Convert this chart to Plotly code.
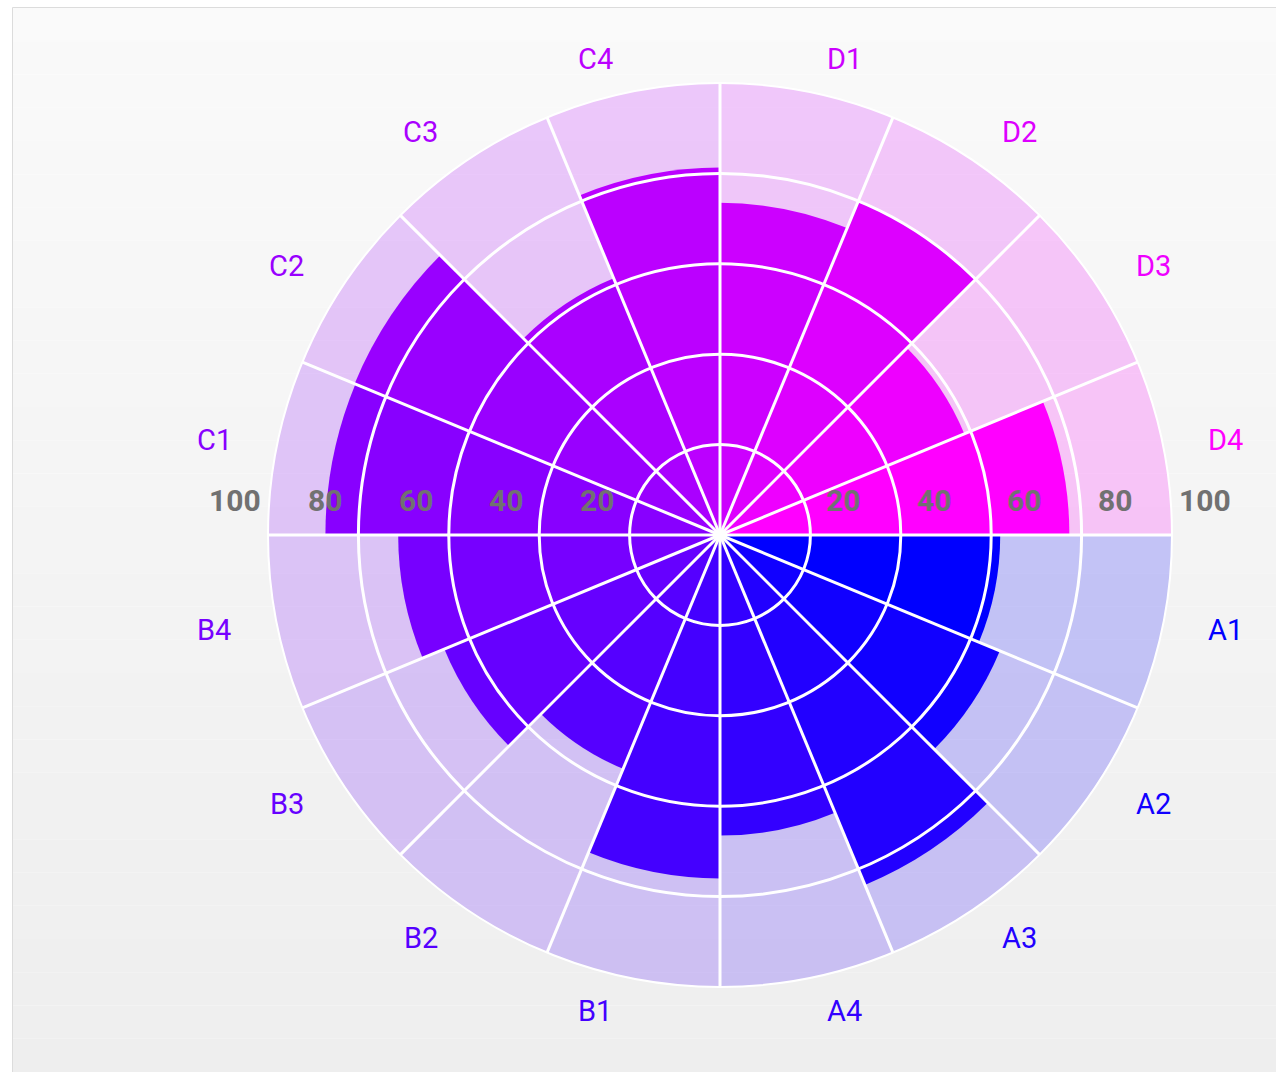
import math
import plotly.graph_objects as go

# ---------------- data ----------------
categories = ["A1", "A2", "A3", "A4", "B1", "B2", "B3", "B4",
              "C1", "C2", "C3", "C4", "D1", "D2", "D3", "D4"]
values = [62, 67, 83.8, 66.5, 76, 56, 66, 71.2,
          87.3, 87.5, 61.5, 81.3, 73.5, 80, 58.5, 77.3]
track = [100] * len(categories)          # full-length background tracks
radial_ticks = [20, 40, 60, 80, 100]
radial_ticktext = ["20", "40", "60", "80", "100"]

# ---------------- style ----------------
colors = ["#0000ff", "#1100ff", "#2200ff", "#3300ff", "#4400ff", "#5500ff",
          "#6600ff", "#7700ff", "#8800ff", "#9900ff", "#aa00ff", "#bb00ff",
          "#cc00ff", "#dd00ff", "#ee00ff", "#ff00ff"]


def with_alpha(hex_color, a):
    h = hex_color.lstrip("#")
    r, g, b = int(h[0:2], 16), int(h[2:4], 16), int(h[4:6], 16)
    return f"rgba({r},{g},{b},{a})"


track_colors = [with_alpha(c, 0.2) for c in colors]

W, H = 1276, 1072
CX, CY, R = 720, 535, 452          # polar centre / radius in px
FONT = "Roboto"
n = len(categories)
step = 360.0 / n
GRID_W = 2.5

dom_x = [(CX - R) / W, (CX + R) / W]
dom_y = [1 - (CY + R) / H, 1 - (CY - R) / H]

fig = go.Figure()

fig.add_trace(go.Barpolar(
    r=track, theta=categories, subplot="polar",
    marker=dict(color=track_colors, line=dict(width=0)),
    hoverinfo="skip", showlegend=False,
))
fig.add_trace(go.Barpolar(
    r=values, theta=categories, subplot="polar",
    marker=dict(color=colors, line=dict(width=0)),
    showlegend=False,
))
# overlay subplot that only carries the white grid (drawn above the bars)
fig.add_trace(go.Scatterpolar(
    r=[0], theta=[0], subplot="polar2", mode="markers",
    marker=dict(size=1, opacity=0), hoverinfo="skip", showlegend=False,
))

# background gradient bands + panel border
shapes = []
top_px, left_px = 8, 13
bands = 32
c0, c1 = 250, 238
for k in range(bands):
    y0 = top_px + (H - top_px) * k / bands
    y1 = top_px + (H - top_px) * (k + 1) / bands
    g = round(c0 + (c1 - c0) * (k + 0.5) / bands)
    shapes.append(dict(type="rect", xref="paper", yref="paper",
                       x0=left_px / W, x1=1, y0=1 - y1 / H, y1=1 - y0 / H,
                       fillcolor=f"rgb({g},{g},{g})", line=dict(width=0),
                       layer="below"))
shapes.append(dict(type="line", xref="paper", yref="paper",
                   x0=(left_px - 0.5) / W, x1=(left_px - 0.5) / W,
                   y0=0, y1=1 - (top_px - 0.5) / H,
                   line=dict(color="#dcdcdc", width=1), layer="below"))
shapes.append(dict(type="line", xref="paper", yref="paper",
                   x0=(left_px - 0.5) / W, x1=1,
                   y0=1 - (top_px - 0.5) / H, y1=1 - (top_px - 0.5) / H,
                   line=dict(color="#dcdcdc", width=1), layer="below"))

annotations = []
# radial tick labels, mirrored on both sides
for v, t in zip(radial_ticks, radial_ticktext):
    for side in (1, -1):
        px = CX + side * (R * v / 100 + 33)
        annotations.append(dict(
            x=px / W, y=1 - (CY - 35) / H, xref="paper", yref="paper",
            text=t, showarrow=False, xanchor="center", yanchor="middle",
            font=dict(family=FONT, size=30, color="#717171", weight="bold"),
        ))
# category labels
LR = 485
for i, (cat, col) in enumerate(zip(categories, colors)):
    ang = math.radians(-(step / 2 + step * i))
    c = math.cos(ang)
    px = CX + LR * c + (30 if c > 0 else -30)
    py = CY - LR * math.sin(ang)
    annotations.append(dict(
        x=px / W, y=1 - py / H, xref="paper", yref="paper",
        text=cat, showarrow=False, xanchor="center", yanchor="middle",
        font=dict(family=FONT, size=29, color=col),
    ))

fig.update_layout(
    width=W, height=H, autosize=False,
    margin=dict(l=0, r=0, t=0, b=0, pad=0),
    paper_bgcolor="white",
    font=dict(family=FONT),
    shapes=shapes,
    annotations=annotations,
    polar=dict(
        domain=dict(x=dom_x, y=dom_y),
        bgcolor="rgba(0,0,0,0)",
        bargap=0, barmode="overlay", hole=0,
        radialaxis=dict(range=[0, 100], visible=False),
        angularaxis=dict(type="category", categoryarray=categories,
                         rotation=-step / 2, direction="clockwise",
                         visible=False),
    ),
    polar2=dict(
        domain=dict(x=dom_x, y=dom_y),
        bgcolor="rgba(0,0,0,0)",
        hole=0,
        radialaxis=dict(range=[0, 100], tickvals=radial_ticks,
                        showgrid=True, gridcolor="white", gridwidth=GRID_W,
                        showticklabels=False, showline=False, ticks=""),
        angularaxis=dict(type="linear", thetaunit="degrees", rotation=0,
                         direction="clockwise",
                         tickvals=[step * k for k in range(n)],
                         showgrid=True, gridcolor="white", gridwidth=GRID_W,
                         showticklabels=False, ticks="",
                         showline=True, linecolor="white", linewidth=2),
    ),
)

fig.write_html("out.html", config={"displayModeBar": False},
               post_script="document.body.style.margin='0';")
